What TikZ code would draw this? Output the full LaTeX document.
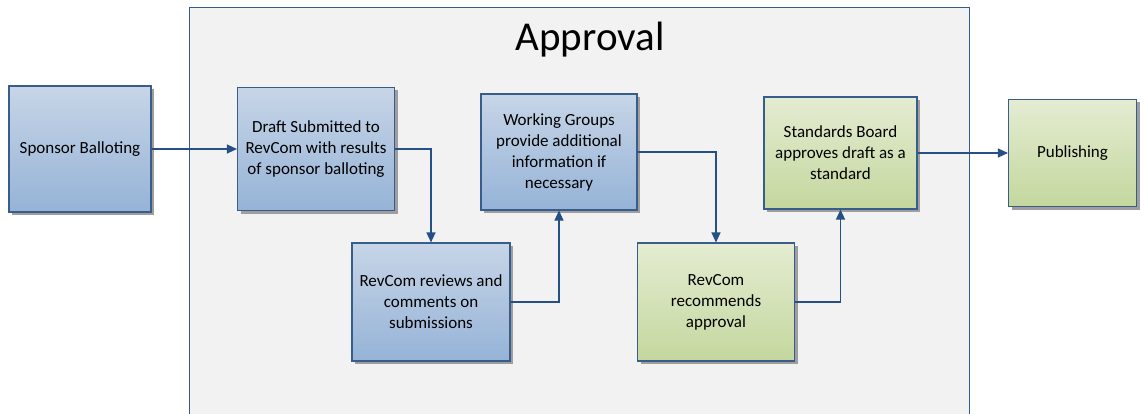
\documentclass[tikz,border=0pt]{standalone}
\usepackage{fontspec}
\setmainfont{Carlito}
\usepackage{tikz}
\usetikzlibrary{arrows.meta, positioning, shadows}
\usepackage{xcolor}
\definecolor{boxline}{HTML}{385D8A}
\definecolor{arrowline}{HTML}{254F85}
\definecolor{bluetop}{HTML}{C7D5E7}
\definecolor{bluebot}{HTML}{95B3D7}
\definecolor{greentop}{HTML}{E4ECD2}
\definecolor{greenbot}{HTML}{C4D79E}
\definecolor{panel}{HTML}{F2F2F2}

\begin{document}
\begin{tikzpicture}[x=1pt, y=-1pt, font=\fontsize{17}{21}\selectfont]
            \tikzstyle{stage} = [rectangle, draw=boxline, line width=1.1pt, align=center, inner sep=2pt,
                drop shadow={shadow xshift=3pt, shadow yshift=-3pt, fill=black!38, opacity=1}]
            \tikzstyle{bluebox} = [stage, top color=bluetop, bottom color=bluebot]
            \tikzstyle{greenbox} = [stage, top color=greentop, bottom color=greenbot]
            \tikzstyle{flow} = [draw=arrowline, line width=1.2pt, -{Triangle[length=10pt, width=9pt]}]

            \useasboundingbox (0,0) rectangle (1145,414);
            % approval panel, open at the bottom
            \fill[panel] (189,8) rectangle (969,414);
            \draw[boxline, line width=1pt] (189,414) -- (189,8) -- (969,8) -- (969,414);
            \node (title) at (590,40) {\fontsize{41}{48}\selectfont Approval};

            \node [bluebox, minimum width=142pt, minimum height=126pt] at (80,149) (sponsor) {Sponsor Balloting};
            \node [bluebox, minimum width=157pt, minimum height=123pt, right of=sponsor, node distance=236pt] (draft) {Draft Submitted to\\RevCom with results\\of sponsor balloting};
            \node [bluebox, minimum width=158pt, minimum height=118pt] at (431,302) (reviews) {RevCom reviews and\\comments on\\submissions};
            \node [bluebox, minimum width=156pt, minimum height=116pt] at (559,152) (groups) {Working Groups\\provide additional\\information if\\necessary};
            \node [greenbox, minimum width=157pt, minimum height=118pt, right of=reviews, node distance=285pt] (recommend) {RevCom\\recommends\\approval};
            \node [greenbox, minimum width=153pt, minimum height=112pt] at (840.5,153) (board) {Standards Board\\approves draft as a\\standard};
            \node [greenbox, minimum width=128pt, minimum height=107pt, right of=board, node distance=232pt] (publish) {Publishing};

            \path [flow] (sponsor) -- (draft);
            \path [flow] (draft.east) -| (reviews.north);
            \path [flow] (reviews.east) -| (groups.south);
            \path [flow] (groups.east) -| (recommend.north);
            \path [flow] (recommend.east) -| (board.south);
            \path [flow] (board) -- (publish);
        \end{tikzpicture}
\end{document}
